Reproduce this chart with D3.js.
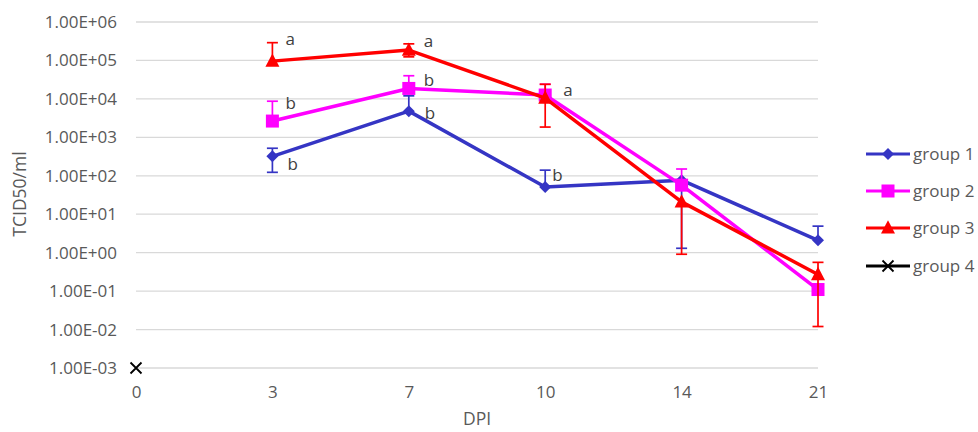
<!DOCTYPE html>
<html>
<head>
<meta charset="utf-8">
<script src="https://cdn.jsdelivr.net/npm/d3@7"></script>
<style>
  body { margin: 0; background: #fff; }
  text { font-family: "Open Sans", "Liberation Sans", sans-serif; }
</style>
</head>
<body>
<div id="chart"></div>
<script>
const width = 978;
const height = 432;

// data
const days = ["0", "3", "7", "10", "14", "21"];
const yTicks = [1e-3, 1e-2, 1e-1, 1e0, 1e1, 1e2, 1e3, 1e4, 1e5, 1e6];
const groupNames = ["group 1", "group 2", "group 3", "group 4"];

// mean values per day (null = no point)
const group1 = [null, 320, 4800, 51, 77, 2.1];
const group2 = [null, 2650, 18700, 12600, 57, 0.11];
const group3 = [null, 96000, 186000, 10500, 21, 0.27];
const group4 = [0.001, null, null, null, null, null];

// error bar ends [low, high] (null = not drawn)
const group1Err = [null, [123, 520], [4800, 12000], [51, 140], [1.3, 77], [2.1, 4.9]];
const group2Err = [null, [2650, 8700], [18700, 40000], [12600, 24000], [57, 150], null];
const group3Err = [null, [96000, 290000], [124000, 270000], [1850, 24000], [0.91, 21], [0.012, 0.56]];
const group4Err = [null, null, null, null, null, null];

// significance letters: [group index, day, letter]
const letters = [
  [2, "3", "a"], [1, "3", "b"], [0, "3", "b"],
  [2, "7", "a"], [1, "7", "b"], [0, "7", "b"],
  [2, "10", "a"], [0, "10", "b"]
];
// letter offsets from the point (layout only)
const letterOffsets = {
  "2-3": [13, -22], "1-3": [13, -18], "0-3": [15, 8],
  "2-7": [15, -9], "1-7": [15, -8], "0-7": [16, 2],
  "2-10": [18, -8], "0-10": [7, -12]
};

const colors = ["#3535c4", "#ff00ff", "#ff0000", "#000000"];
const shapes = ["diamond", "square", "triangle", "cross"];
const values = [group1, group2, group3, group4];
const errors = [group1Err, group2Err, group3Err, group4Err];

const svg = d3.select("#chart")
  .append("svg")
  .attr("width", width)
  .attr("height", height);

const x = d3.scalePoint().domain(days).range([136, 818]);
const y = d3.scaleLog().domain([1e-3, 1e6]).range([368, 22]);

// gridlines
svg.append("g")
  .selectAll("line")
  .data(yTicks)
  .join("line")
  .attr("x1", 136)
  .attr("x2", 818)
  .attr("y1", d => y(d))
  .attr("y2", d => y(d))
  .attr("stroke", "#d9d9d9")
  .attr("stroke-width", 1.3);

// y axis
const yAxis = d3.axisLeft(y)
  .tickValues(yTicks)
  .tickSize(0)
  .tickPadding(0)
  .tickFormat(d => {
    const e = Math.round(Math.log10(d));
    return "1.00E" + (e < 0 ? "-" : "+") + String(Math.abs(e)).padStart(2, "0");
  });
const gy = svg.append("g").attr("transform", "translate(117,0)").call(yAxis);
gy.select(".domain").remove();
gy.selectAll("text").attr("font-size", 17).attr("fill", "#595959");

// x axis
const xAxis = d3.axisBottom(x).tickSize(0).tickPadding(0);
const gx = svg.append("g").attr("transform", "translate(0,386)").call(xAxis);
gx.select(".domain").remove();
gx.selectAll("text").attr("font-size", 17).attr("fill", "#595959");

// axis titles
svg.append("text")
  .attr("x", 477).attr("y", 425)
  .attr("text-anchor", "middle")
  .attr("font-size", 17.5).attr("fill", "#595959")
  .text("DPI");
svg.append("text")
  .attr("transform", "translate(26,194) rotate(-90)")
  .attr("text-anchor", "middle")
  .attr("font-size", 17.5).attr("fill", "#595959")
  .text("TCID50/ml");

function marker(g, shape, color, cx, cy, s) {
  if (shape === "diamond") {
    g.append("path")
      .attr("d", `M${cx},${cy - s}L${cx + s},${cy}L${cx},${cy + s}L${cx - s},${cy}Z`)
      .attr("fill", color);
  } else if (shape === "square") {
    g.append("rect")
      .attr("x", cx - s).attr("y", cy - s)
      .attr("width", 2 * s).attr("height", 2 * s)
      .attr("fill", color);
  } else if (shape === "triangle") {
    g.append("path")
      .attr("d", `M${cx},${cy - s * 1.1}L${cx + s},${cy + s * 0.8}L${cx - s},${cy + s * 0.8}Z`)
      .attr("fill", color);
  } else {
    g.append("path")
      .attr("d", `M${cx - s},${cy - s}L${cx + s},${cy + s}M${cx - s},${cy + s}L${cx + s},${cy - s}`)
      .attr("stroke", color).attr("stroke-width", 1.8);
  }
}

const sizes = [6, 6.5, 7, 5.5];

values.forEach((vals, gi) => {
  const g = svg.append("g");
  const pts = days.map((d, i) => ({ day: d, v: vals[i], err: errors[gi][i] }))
    .filter(p => p.v != null);

  // error bars
  pts.filter(p => p.err).forEach(p => {
    const cx = x(p.day);
    g.append("line")
      .attr("x1", cx).attr("x2", cx)
      .attr("y1", y(p.err[0])).attr("y2", y(p.err[1]))
      .attr("stroke", colors[gi]).attr("stroke-width", 1.7);
    p.err.forEach(e => {
      if (e === p.v) return;
      g.append("line")
        .attr("x1", cx - 5.5).attr("x2", cx + 5.5)
        .attr("y1", y(e)).attr("y2", y(e))
        .attr("stroke", colors[gi]).attr("stroke-width", 1.7);
    });
  });

  const line = d3.line().x(p => x(p.day)).y(p => y(p.v));
  g.append("path")
    .datum(pts)
    .attr("d", line)
    .attr("fill", "none")
    .attr("stroke", colors[gi])
    .attr("stroke-width", 3.5)
    .attr("stroke-linejoin", "round");

  pts.forEach(p => marker(g, shapes[gi], colors[gi], x(p.day), y(p.v), sizes[gi]));
});

// letters
svg.append("g")
  .selectAll("text")
  .data(letters)
  .join("text")
  .attr("x", d => x(d[1]) + letterOffsets[d[0] + "-" + d[1]][0])
  .attr("y", d => y(values[d[0]][days.indexOf(d[1])]) + letterOffsets[d[0] + "-" + d[1]][1])
  .attr("dy", "0.35em")
  .attr("font-size", 17)
  .attr("fill", "#404040")
  .text(d => d[2]);

// legend
const legend = svg.append("g");
const legendY = [154, 191, 228, 266];
groupNames.forEach((name, i) => {
  const ly = legendY[i];
  legend.append("line")
    .attr("x1", 866).attr("x2", 910)
    .attr("y1", ly).attr("y2", ly)
    .attr("stroke", colors[i]).attr("stroke-width", 3.2);
  marker(legend, shapes[i], colors[i], 888, ly, sizes[i]);
  legend.append("text")
    .attr("x", 913).attr("y", ly)
    .attr("dy", "0.35em")
    .attr("font-size", 17)
    .attr("fill", "#595959")
    .text(name);
});
</script>
</body>
</html>
